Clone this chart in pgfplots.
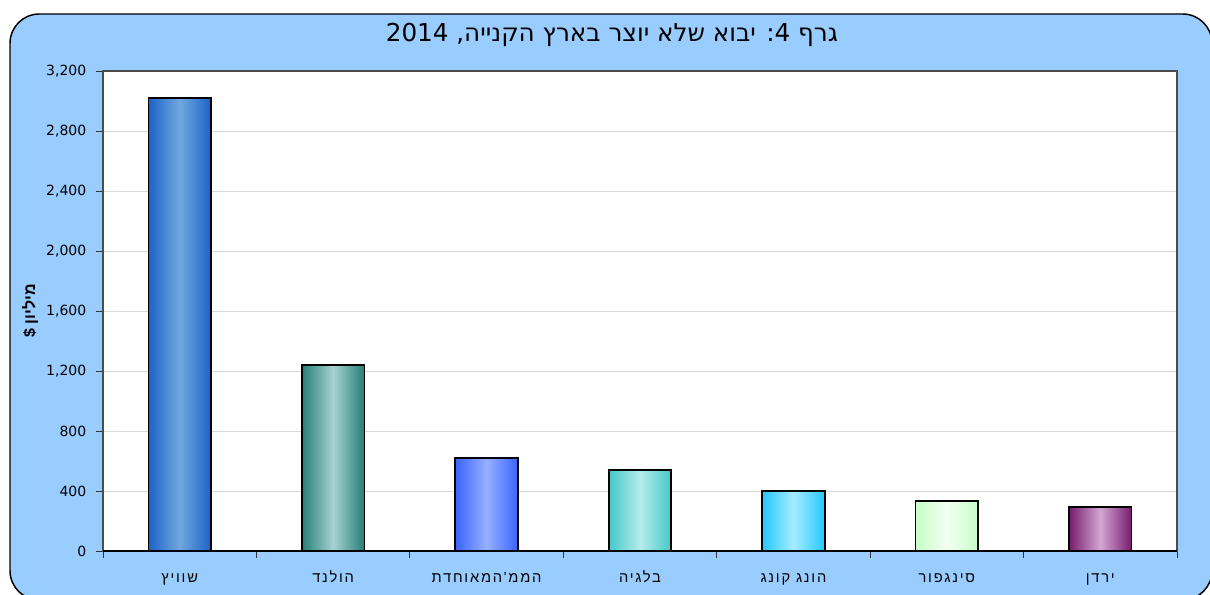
\documentclass[border=0pt]{standalone}
\usepackage{pgfplots}
\pgfplotsset{compat=1.18}
\usepackage{fontspec}
\setmainfont{Liberation Sans}
\newfontfamily\heb[Script=Hebrew]{Liberation Sans}
\newfontfamily\hebsp[Script=Hebrew,LetterSpace=12]{Liberation Sans}
\newfontfamily\dejaheb[Script=Hebrew]{DejaVu Sans}
\newfontfamily\deja{DejaVu Sans}
\TeXXeTstate=1
\definecolor{bgblue}{RGB}{153,204,255}
\definecolor{cAd}{RGB}{28,98,200}\definecolor{cAl}{RGB}{112,168,222}
\definecolor{cBd}{RGB}{38,126,118}\definecolor{cBl}{RGB}{166,210,210}
\definecolor{cCd}{RGB}{58,100,255}\definecolor{cCl}{RGB}{150,176,255}
\definecolor{cDd}{RGB}{68,200,200}\definecolor{cDl}{RGB}{182,236,236}
\definecolor{cEd}{RGB}{36,200,255}\definecolor{cEl}{RGB}{166,236,255}
\definecolor{cFd}{RGB}{198,255,198}\definecolor{cFl}{RGB}{242,255,242}
\definecolor{cGd}{RGB}{118,28,108}\definecolor{cGl}{RGB}{212,166,212}
\begin{document}
\begin{tikzpicture}
\clip (0,0) rectangle (907.5pt,446.25pt);
\fill[bgblue, draw=black, line width=1.1pt, rounded corners=22pt] (7.5pt,-3.75pt) rectangle (909pt,435.75pt);
\node[font=\dejaheb\fontsize{18.5}{22}\selectfont] at (459pt,420pt) {\beginR גרף 4: יבוא שלא יוצר בארץ הקנייה, \beginL 2014\endL\endR};
\node[rotate=90, font=\heb\bfseries\fontsize{12}{14}\selectfont] at (22.5pt,213pt) {\beginR מיליון \$\endR};
\begin{axis}[
  at={(77.25pt,33pt)}, anchor=south west,
  scale only axis, width=805.5pt, height=360pt,
  xmin=-0.5, xmax=6.5, ymin=0, ymax=3200,
  axis background/.style={fill=white},
  axis line style={draw=gray!60!black, line width=0.8pt},
  ytick={0,400,...,3200},
  ytick pos=left, xtick pos=bottom,
  yticklabel style={font=\deja\fontsize{10.5}{12}\selectfont, xshift=-4pt},
  /pgf/number format/assume math mode=true,
  /pgf/number format/1000 sep={,},
  ymajorgrids, grid style={draw=gray!30, line width=0.6pt},
  tick align=outside, major tick length=5pt,
  tick style={draw=gray!40!black, line width=0.6pt},
  xtick={-0.5,0.5,...,6.5}, xticklabels={},
  extra x ticks={0,1,2,3,4,5,6},
  extra x tick labels={{\beginR שוויץ\endR},{\beginR הולנד\endR},{\beginR הממ'המאוחדת\endR},{\beginR בלגיה\endR},{\beginR הונג קונג\endR},{\beginR סינגפור\endR},{\beginR ירדן\endR}},
  extra x tick style={tick align=inside, major tick length=4pt, tick style={draw=gray!70}, grid=none,
    xticklabel style={font=\hebsp\fontsize{11}{13}\selectfont, anchor=base, yshift=-24pt}},
  clip=false,
]
\addplot[ybar, bar shift=0pt, bar width=47pt, draw=black, line width=1.3pt, left color=cAd, right color=cAd, middle color=cAl] coordinates {(0,3020)};
\addplot[ybar, bar shift=0pt, bar width=47pt, draw=black, line width=1.3pt, left color=cBd, right color=cBd, middle color=cBl] coordinates {(1,1240)};
\addplot[ybar, bar shift=0pt, bar width=47pt, draw=black, line width=1.3pt, left color=cCd, right color=cCd, middle color=cCl] coordinates {(2,618)};
\addplot[ybar, bar shift=0pt, bar width=47pt, draw=black, line width=1.3pt, left color=cDd, right color=cDd, middle color=cDl] coordinates {(3,542)};
\addplot[ybar, bar shift=0pt, bar width=47pt, draw=black, line width=1.3pt, left color=cEd, right color=cEd, middle color=cEl] coordinates {(4,402)};
\addplot[ybar, bar shift=0pt, bar width=47pt, draw=black, line width=1.3pt, left color=cFd, right color=cFd, middle color=cFl] coordinates {(5,335)};
\addplot[ybar, bar shift=0pt, bar width=47pt, draw=black, line width=1.3pt, left color=cGd, right color=cGd, middle color=cGl] coordinates {(6,293)};
\draw[black, line width=1pt] (rel axis cs:0,0) -- (rel axis cs:1,0);
\end{axis}
\end{tikzpicture}
\end{document}
